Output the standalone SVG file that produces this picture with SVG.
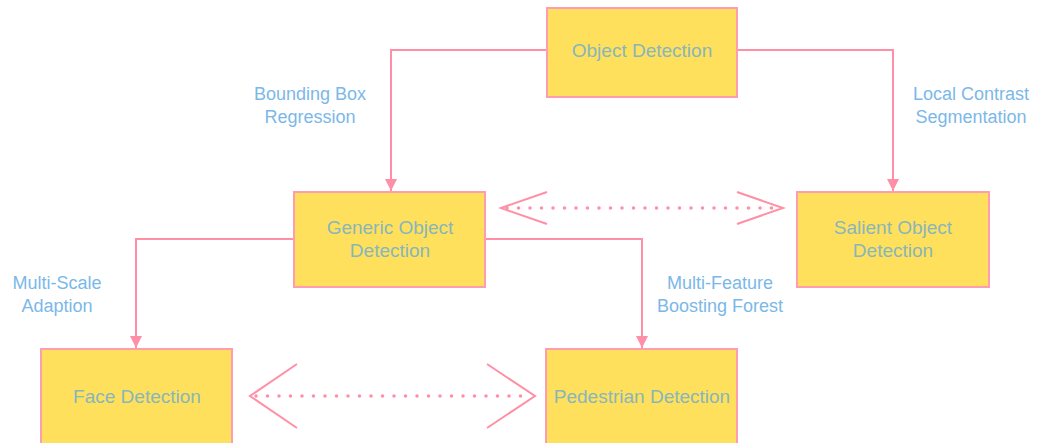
<svg xmlns="http://www.w3.org/2000/svg" width="1038" height="443" viewBox="0 0 1038 443">
  <style>
    .node rect { fill: #ffe05c; stroke: #ff9db0; stroke-width: 2; }
    .node text { fill: #88b6bd; font-family: "Liberation Sans", Arial, sans-serif; font-size: 19px; text-anchor: middle; dominant-baseline: central; }
    .label { fill: #7bb8e8; font-family: "Liberation Sans", Arial, sans-serif; font-size: 18px; text-anchor: middle; dominant-baseline: central; }
    .edge { fill: none; stroke: #ff8fa6; stroke-width: 2; }
    .dots { fill: none; stroke: #ff8fa6; stroke-width: 3.5; stroke-linecap: round; stroke-dasharray: 0 11.5; }
    .chev { fill: none; stroke: #ff8fa6; stroke-width: 2; }
  </style>
  <defs>
    <marker id="arrow" viewBox="0 0 12 12" refX="12" refY="6" markerWidth="12" markerHeight="12" markerUnits="userSpaceOnUse" orient="auto">
      <path d="M0,0 L12,6 L0,12 Z" fill="#ff8fa6"/>
    </marker>
  </defs>

  <rect width="1038" height="443" fill="#ffffff"/>

  <g id="connectors">
    <path class="edge" d="M547,50 H391 V191" marker-end="url(#arrow)"/>
    <path class="edge" d="M737,50 H893 V191" marker-end="url(#arrow)"/>
    <path class="edge" d="M294,239 H136 V348" marker-end="url(#arrow)"/>
    <path class="edge" d="M485,239 H642 V348" marker-end="url(#arrow)"/>
    <!-- bidirectional dotted links -->
    <line class="dots" x1="507" y1="208" x2="780" y2="208"/>
    <path class="chev" d="M547,192 L501,208 L547,224"/>
    <path class="chev" d="M737,192 L783,208 L737,224"/>
    <line class="dots" x1="256" y1="396" x2="530" y2="396"/>
    <path class="chev" d="M297,364 L250,396 L297,428"/>
    <path class="chev" d="M487,364 L535,396 L487,428"/>
  </g>

  <g id="label-bbox">
    <text class="label" x="310" y="94">Bounding Box</text>
    <text class="label" x="310" y="117">Regression</text>
  </g>
  <g id="label-lcs">
    <text class="label" x="971" y="94">Local Contrast</text>
    <text class="label" x="971" y="117">Segmentation</text>
  </g>
  <g id="label-msa">
    <text class="label" x="57" y="283">Multi-Scale</text>
    <text class="label" x="57" y="306">Adaption</text>
  </g>
  <g id="label-mfbf">
    <text class="label" x="720" y="283">Multi-Feature</text>
    <text class="label" x="720" y="306">Boosting Forest</text>
  </g>

  <g id="object-detection" class="node">
    <rect x="547" y="8" width="190" height="89"/>
    <text x="642" y="50">Object Detection</text>
  </g>
  <g id="generic-object-detection" class="node">
    <rect x="294" y="192" width="191" height="95"/>
    <text x="390" y="227">Generic Object</text>
    <text x="390" y="250">Detection</text>
  </g>
  <g id="salient-object-detection" class="node">
    <rect x="797" y="192" width="192" height="95"/>
    <text x="893" y="227">Salient Object</text>
    <text x="893" y="250">Detection</text>
  </g>
  <g id="face-detection" class="node">
    <rect x="41" y="349" width="191" height="96"/>
    <text x="137" y="396">Face Detection</text>
  </g>
  <g id="pedestrian-detection" class="node">
    <rect x="546" y="349" width="191" height="96"/>
    <text x="642" y="396">Pedestrian Detection</text>
  </g>
</svg>
